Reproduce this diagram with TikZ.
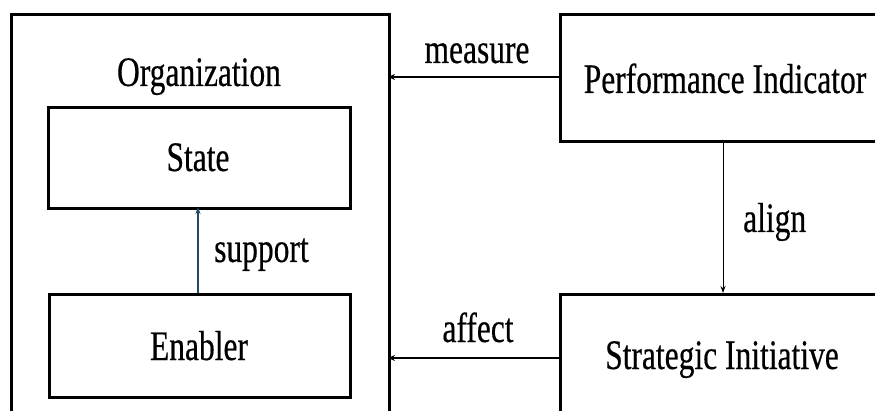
\documentclass[tikz,border=0pt]{standalone}
\usepackage{fontspec}
\setmainfont{Liberation Serif}[FakeStretch=0.75,FakeBold=0.4]
\usetikzlibrary{arrows.meta}
\definecolor{supportcol}{RGB}{31,73,100}
\begin{document}
\begin{tikzpicture}[x=1pt,y=-1pt,
  box/.style={draw=black,line width=3pt,rectangle,inner sep=0pt,anchor=north west},
  txt/.style={font=\fontsize{42}{46}\selectfont,anchor=base,inner sep=0pt},
  conn/.style={line width=2pt,-{Stealth[length=7pt,width=6pt]}},
  thin/.style={line width=1pt,-{Stealth[length=7pt,width=5pt]}}]
\useasboundingbox (0,0) rectangle (875,411);
\clip (0,0) rectangle (875,411);
\fill[white] (0,0) rectangle (875,411);
% boxes
\node[box,minimum width=378pt,minimum height=430pt] (org) at (10,13) {};
\node[box,minimum width=302pt,minimum height=101pt] (state) at (47,106) {};
\node[box,minimum width=301pt,minimum height=103pt] (enab) at (48,293) {};
\node[box,minimum width=340pt,minimum height=127pt] (pi) at (559,13) {};
\node[box,minimum width=340pt,minimum height=140pt] (si) at (559,293) {};
% texts
\node[txt] (orgt) at (199,86) {Organization};
\node[txt] (statet) at (198,171) {State};
\node[txt] (enabt) at (199,360) {Enabler};
\node[txt] (pit) at (725,93) {Performance Indicator};
\node[txt] (sit) at (722,369) {Strategic Initiative};
% connectors
\coordinate (m1) at (559,77);
\coordinate (m2) at (388,77);
\draw[conn] (m1) -- (m2);
\node[txt] (mt) at (477,63) {measure};
\coordinate (a1) at (559,358);
\coordinate (a2) at (388,358);
\draw[conn] (a1) -- (a2);
\node[txt] (at) at (478,342) {affect};
\coordinate (l1) at (723,140);
\coordinate (l2) at (723,293);
\draw[thin] (l1) -- (l2);
\node[txt,anchor=base west] (lt) at (743,232) {align};
\coordinate (s1) at (198,293);
\coordinate (s2) at (198,207);
\draw[thin,draw=supportcol,fill=supportcol,line width=1.5pt] (s1) -- (s2);
\node[txt,anchor=base west] (st) at (214,262) {support};
\end{tikzpicture}
\end{document}
